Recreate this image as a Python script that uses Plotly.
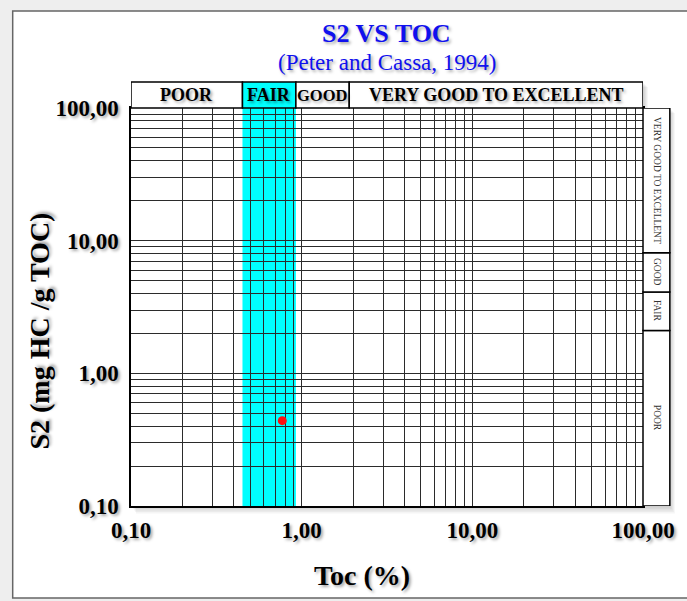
import numpy as np
import plotly.graph_objects as go

# ---------------- data ----------------
toc_sample = [0.77]          # TOC (%)
s2_sample = [0.44]           # S2 (mg HC / g TOC)

x_tick_vals = [0.1, 1, 10, 100]
x_tick_text = ["0,10", "1,00", "10,00", "100,00"]
y_tick_vals = [0.1, 1, 10, 100]
y_tick_text = ["0,10", "1,00", "10,00", "100,00"]

toc_classes = ["POOR", "FAIR", "GOOD", "VERY GOOD TO EXCELLENT"]
toc_bounds = [0.1, 0.45, 0.925, 1.9, 100]      # class limits as drawn on the TOC axis
s2_classes = ["POOR", "FAIR", "GOOD", "VERY GOOD TO EXCELLENT"]
s2_bounds = [0.1, 2.1, 4.1, 8.1, 100]          # class limits as drawn on the S2 axis

# ---------------- layout geometry (pixels) ----------------
W, H = 687, 601
L, R, T, B = 131, 646, 108, 506
PW, PH = R - L, B - T


def px(x):
    return (x - L) / PW


def py(y):
    return (B - y) / PH


SERIF = "Liberation Serif"
SHADOW = "2px 2px 3px rgba(0,0,0,0.35)"
BLUE = "#1010ee"
GRID = "#2b2b2b"

fig = go.Figure()

fig.add_trace(go.Scatter(
    x=toc_sample, y=s2_sample, mode="markers",
    marker=dict(color="#ff1010", size=9, line=dict(width=0)),
    showlegend=False, hoverinfo="x+y",
))

shapes = []
# outer frame (white panel on light-gray page)
shapes.append(dict(type="rect", xref="paper", yref="paper",
                   x0=px(12), x1=px(700), y0=py(598), y1=py(11),
                   fillcolor="white", line=dict(color="#666666", width=1.5),
                   layer="below"))
# soft drop shadow behind the plot block and the top band
for (bx0, bx1, by0, by1) in [(L, 673, T, B), (L, R, 82, T)]:
    for k in range(1, 6):
        shapes.append(dict(type="rect", xref="paper", yref="paper",
                           x0=px(bx0 + k), x1=px(bx1 + k), y0=py(by1 + 1.5 * k),
                           y1=py(by0 + k),
                           fillcolor="rgba(0,0,0,0.04)", line=dict(width=0), layer="below"))
# white backgrounds above the shadow
shapes.append(dict(type="rect", xref="paper", yref="paper", x0=0, x1=px(673), y0=0, y1=1,
                   fillcolor="white", line=dict(width=0), layer="below"))
shapes.append(dict(type="rect", xref="paper", yref="paper", x0=0, x1=1, y0=1, y1=py(82),
                   fillcolor="white", line=dict(width=0), layer="below"))
# cyan FAIR column inside plot (shapes on log axes take data values)
fair_i = toc_classes.index("FAIR")
shapes.append(dict(type="rect", xref="x", yref="paper",
                   x0=toc_bounds[fair_i], x1=toc_bounds[fair_i + 1],
                   y0=0, y1=1, fillcolor="#00ffff", line=dict(width=0), layer="below"))

annotations = []
band_y0, band_y1 = 1.0, py(82)
for i, name in enumerate(toc_classes):
    a, b = toc_bounds[i], toc_bounds[i + 1]
    shapes.append(dict(type="rect", xref="x", yref="paper", x0=a, x1=b,
                       y0=band_y0, y1=band_y1,
                       fillcolor="#00ffff" if name == "FAIR" else "white",
                       line=dict(color="black", width=1.5), layer="above"))
    annotations.append(dict(xref="x", yref="paper", x=(np.log10(a) + np.log10(b)) / 2,
                            y=(band_y0 + band_y1) / 2, text=name, showarrow=False,
                            xanchor="center", yanchor="middle",
                            font=dict(family=SERIF, size=16.5 if name == "GOOD" else 18,
                                      color="black", weight="bold", shadow=SHADOW)))

rb_x0, rb_x1 = 1.0, px(673)
for i, name in enumerate(s2_classes):
    a, b = s2_bounds[i], s2_bounds[i + 1]
    shapes.append(dict(type="rect", xref="paper", yref="y", x0=rb_x0, x1=rb_x1,
                       y0=a, y1=b, fillcolor="white",
                       line=dict(color="black", width=1.5), layer="above"))
    annotations.append(dict(xref="paper", yref="y", x=(rb_x0 + rb_x1) / 2,
                            y=(np.log10(a) + np.log10(b)) / 2, text=name, showarrow=False,
                            textangle=90, xanchor="center", yanchor="middle",
                            font=dict(family=SERIF, size=9.5, color="#333333")))

# titles
annotations.append(dict(xref="paper", yref="paper", x=px(388), y=py(34),
                        text="S2 VS TOC", showarrow=False, xanchor="center", yanchor="middle",
                        font=dict(family=SERIF, size=26, color=BLUE, weight="bold", shadow=SHADOW)))
annotations.append(dict(xref="paper", yref="paper", x=px(388), y=py(62),
                        text="(Peter and Cassa, 1994)", showarrow=False, xanchor="center",
                        yanchor="middle",
                        font=dict(family=SERIF, size=23, color=BLUE, shadow=SHADOW)))
annotations.append(dict(xref="paper", yref="paper", x=px(38), y=py(331),
                        text="S2 (mg HC /g TOC)", showarrow=False, textangle=-90,
                        xanchor="center", yanchor="middle",
                        font=dict(family=SERIF, size=28, color="black", weight="bold", shadow=SHADOW)))
annotations.append(dict(xref="paper", yref="paper", x=px(363), y=py(575),
                        text="Toc (%)", showarrow=False, xanchor="center", yanchor="middle",
                        font=dict(family=SERIF, size=28, color="black", weight="bold", shadow=SHADOW)))

tickfont = dict(family=SERIF, size=23, color="black", weight="bold", shadow=SHADOW)
axis_common = dict(
    type="log", range=[-1, 2], showgrid=True, gridcolor=GRID, gridwidth=1.2,
    minor=dict(showgrid=True, dtick="D1", gridcolor=GRID, gridwidth=1, ticks=""),
    showline=True, linecolor="black", linewidth=1.5, mirror=True,
    ticks="", zeroline=False, tickfont=tickfont, tickmode="array",
)

fig.update_layout(
    width=W, height=H, autosize=False,
    margin=dict(l=L, r=W - R, t=T, b=H - B, pad=0),
    paper_bgcolor="#eeeeee", plot_bgcolor="rgba(0,0,0,0)",
    shapes=shapes, annotations=annotations, showlegend=False,
    xaxis=dict(axis_common, tickvals=x_tick_vals, ticktext=x_tick_text, ticklabelstandoff=3),
    yaxis=dict(axis_common, tickvals=y_tick_vals, ticktext=y_tick_text, ticklabelstandoff=6),
    font=dict(family=SERIF),
)

fig.write_html("out.html", config={"displayModeBar": False},
               post_script="document.body.style.margin='0';document.body.style.overflow='hidden';")
